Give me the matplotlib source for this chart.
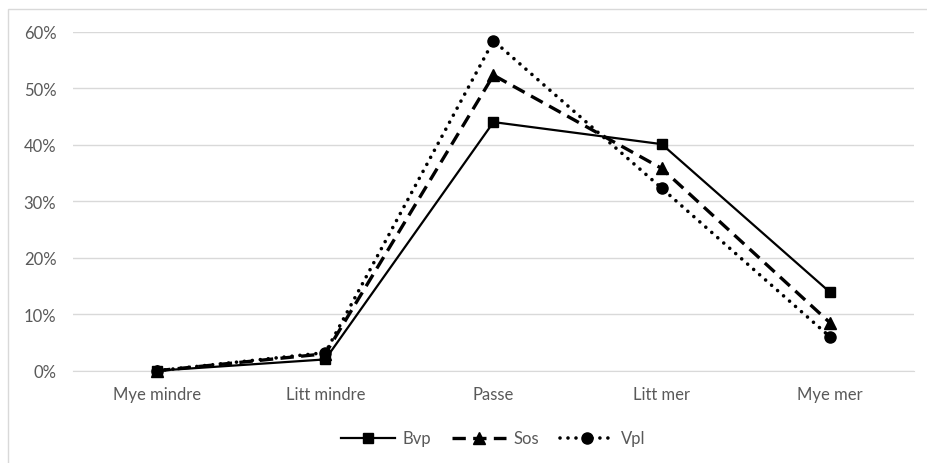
import matplotlib.pyplot as plt
from matplotlib.patches import Rectangle
from matplotlib.ticker import PercentFormatter

categories = ['Mye mindre', 'Litt mindre', 'Passe', 'Litt mer', 'Mye mer']
bvp = [0.0, 2.0, 44.0, 40.1, 13.9]
sos = [0.0, 3.0, 52.3, 35.8, 8.5]
vpl = [0.0, 3.2, 58.4, 32.3, 6.0]
y_ticks = [0, 10, 20, 30, 40, 50, 60]

plt.rcParams['font.family'] = ['Lato', 'DejaVu Sans']

fig = plt.figure(figsize=(9.28, 4.64), dpi=100)
fig.patches.append(Rectangle((8 / 928, -0.1), 1.2, 1.1 - 10 / 464,
                             transform=fig.transFigure, fill=False,
                             edgecolor='#d9d9d9', linewidth=1.0))
ax = fig.add_axes([73 / 928, 1 - 371.7 / 464, 841 / 928, 339 / 464])

x = range(len(categories))
ax.plot(x, vpl, color='black', lw=2.6, marker='o', ms=8, label='Vpl',
        dashes=(0.01, 2.2), dash_capstyle='round', clip_on=False, zorder=3)
ax.plot(x, sos, color='black', lw=2.4, marker='^', ms=8, label='Sos',
        dashes=(4, 2.2), clip_on=False, zorder=4)
ax.plot(x, bvp, color='black', lw=1.6, marker='s', ms=7, label='Bvp',
        clip_on=False, zorder=5)

ax.set_xlim(-0.5, len(categories) - 0.5)
ax.set_ylim(0, 60)
ax.set_yticks(y_ticks)
ax.yaxis.set_major_formatter(PercentFormatter(decimals=0))
ax.set_xticks(list(x))
ax.set_xticklabels(categories)
ax.grid(axis='y', color='#d9d9d9', lw=1.0)
ax.set_axisbelow(True)
for s in ['top', 'right', 'left']:
    ax.spines[s].set_visible(False)
ax.spines['bottom'].set_color('#d9d9d9')
ax.tick_params(length=0, colors='#595959', labelsize=12)
ax.tick_params(axis='y', pad=12)
ax.tick_params(axis='x', pad=11)

handles, labels = ax.get_legend_handles_labels()
leg = ax.legend(handles[::-1], labels[::-1], loc='center',
                bbox_to_anchor=(0.5, -0.2), ncol=3, frameon=False,
                fontsize=12, handlelength=3.2, handletextpad=0.45,
                columnspacing=1.3)
for t in leg.get_texts():
    t.set_color('#595959')

fig.savefig('out.png', dpi=100)
